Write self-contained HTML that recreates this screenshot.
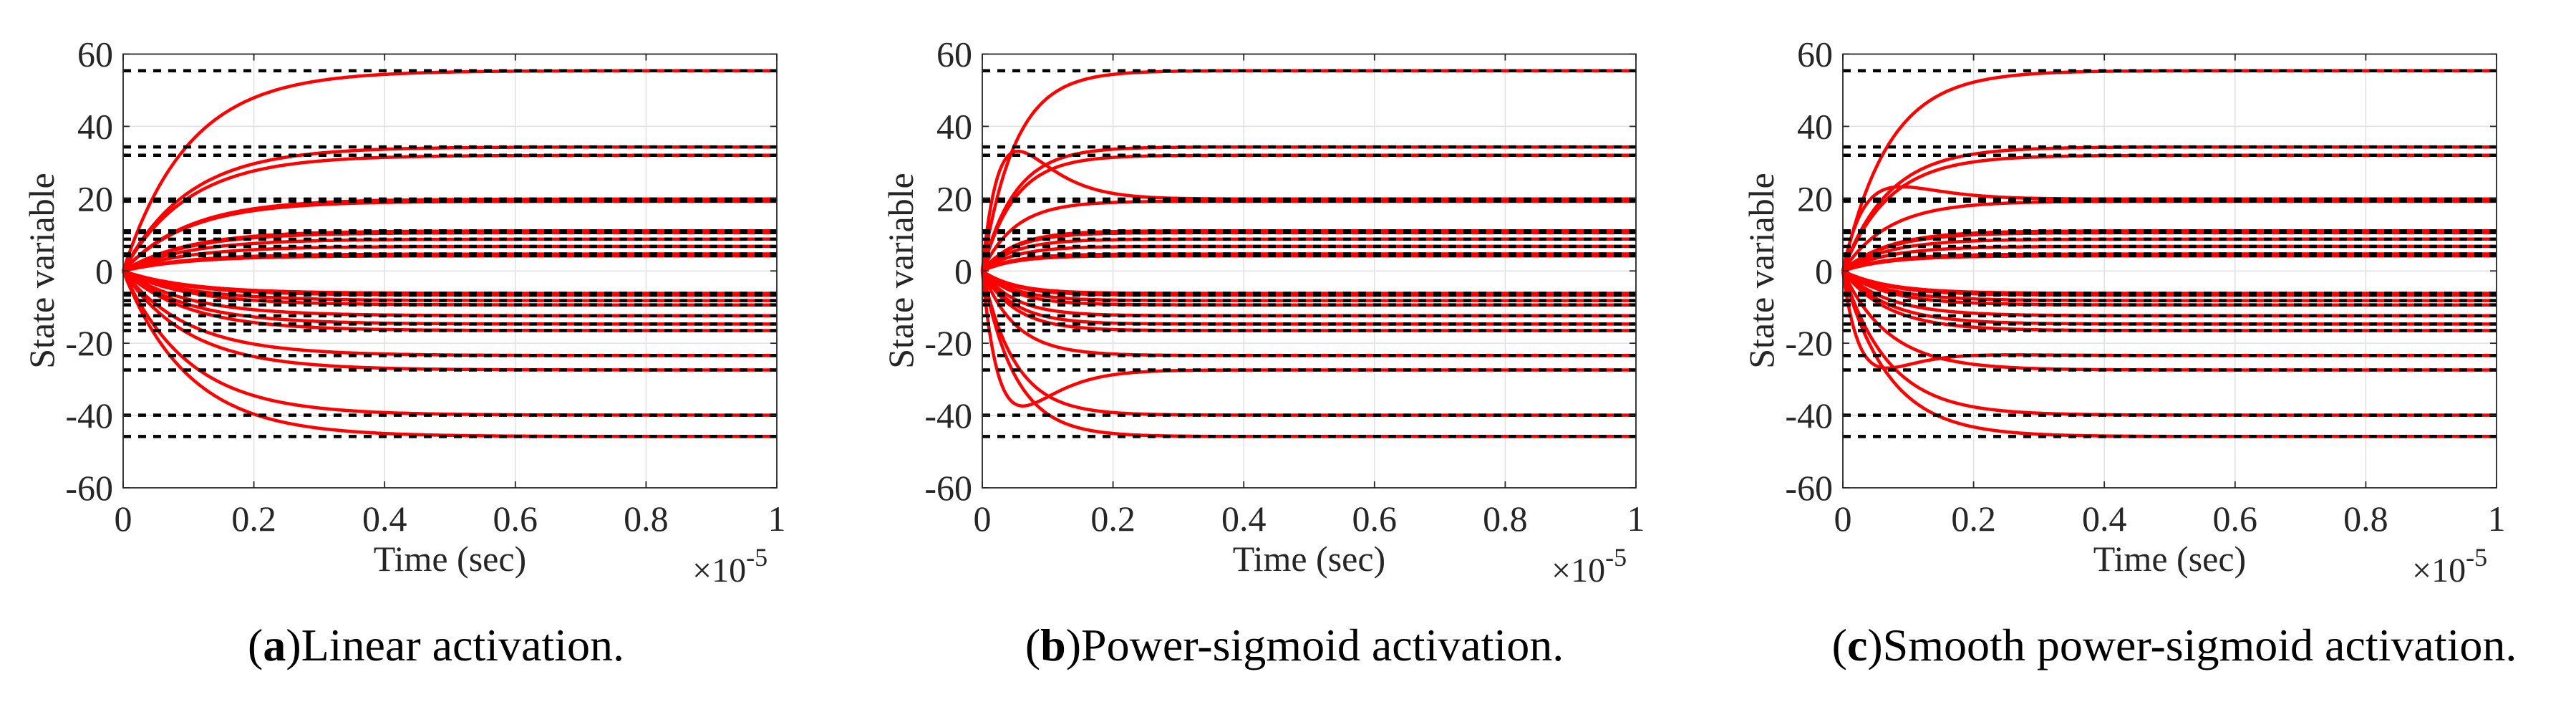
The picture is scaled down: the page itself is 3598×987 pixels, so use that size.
<!DOCTYPE html>
<html><head><meta charset="utf-8">
<style>
html,body{margin:0;padding:0;background:#fff;}
body{width:3598px;height:987px;overflow:hidden;position:relative;font-family:"Liberation Serif",serif;}
svg{position:absolute;left:0;top:0;}
</style></head>
<body>
<svg id="fig" width="3598" height="987" viewBox="0 0 3598 987"></svg>
<script>
// ---- data ----
const targets = [55.4, 34.3, 32.0, 19.3, 19.9, 10.6, 11.1, 8.8, 6.8, 4.2, 4.7, -6.2, -6.7, -8.2, -9.4, -12.4, -14.7, -16.5, -23.4, -27.4, -39.9, -45.8];
const xTicks = [0, 0.2, 0.4, 0.6, 0.8, 1];
const xTickLabels = ["0", "0.2", "0.4", "0.6", "0.8", "1"];
const yTicks = [60, 40, 20, 0, -20, -40, -60];
const yTickLabels = ["60", "40", "20", "0", "-20", "-40", "-60"];
const panelLetters = ["a", "b", "c"];
const panelCaptions = ["Linear activation.", "Power-sigmoid activation.", "Smooth power-sigmoid activation."];
const panelTau = [0.1, 0.05, 0.07];
// overshoot transients: [target index, amplitude, peak time]
const overshootA = [];
const overshootB = [[4, 21, 0.04], [19, -20, 0.04]];
const overshootC = [[4, 11, 0.05], [18, -14.6, 0.04]];
const overshoots = [overshootA, overshootB, overshootC];

const NS = "http://www.w3.org/2000/svg";
const svg = document.getElementById('fig');
function mk(tag, attrs, parent) {
  const e = document.createElementNS(NS, tag);
  for (const k in attrs) e.setAttribute(k, attrs[k]);
  (parent || svg).appendChild(e);
  return e;
}
const panelLeft = [172, 1372, 2574];
const captionCenter = [437, 436, 463];
const W = 913, TOP = 75.5, BOT = 681;

panelLetters.forEach((letter, p) => {
  const L = panelLeft[p];
  const xs = v => L + v * W;
  const ys = v => TOP + (60 - v) / 120 * (BOT - TOP);
  const g = mk('g', {});
  
  

  xTicks.forEach(t => {
    const l = mk('line', {x1: xs(t), x2: xs(t), y1: TOP, y2: BOT, stroke: '#e0e0e0', 'stroke-width': 1.5}, g);
    
    
  });
  yTicks.forEach(t => {
    const l = mk('line', {x1: L, x2: L + W, y1: ys(t), y2: ys(t), stroke: '#e0e0e0', 'stroke-width': 1.5}, g);
    
    
  });

  const tau = panelTau[p];
  const ov = overshoots[p];
  targets.forEach((v, i) => {
    let d = '';
    for (let k = 0; k <= 300; k++) {
      const t = k / 300;
      let x = v * (1 - Math.exp(-t / tau));
      ov.forEach(o => { if (o[0] === i) x += o[1] * (t / o[2]) * Math.exp(1 - t / o[2]); });
      d += (k ? 'L' : 'M') + xs(t).toFixed(1) + ' ' + ys(x).toFixed(1);
    }
    const path = mk('path', {d: d, fill: 'none', stroke: '#ff0000', 'stroke-width': 4.5}, g);
    
    
  });

  targets.forEach(v => {
    const l = mk('line', {x1: L, x2: L + W, y1: ys(v), y2: ys(v), stroke: '#000', 'stroke-width': 4.5, 'stroke-dasharray': '11 10'}, g);
    
    
  });

  const box = mk('rect', {x: L, y: TOP, width: W, height: BOT - TOP, fill: 'none', stroke: '#262626', 'stroke-width': 1.8}, g);
  
  

  xTicks.forEach((t, i) => {
    mk('line', {x1: xs(t), x2: xs(t), y1: BOT, y2: BOT - 9, stroke: '#262626', 'stroke-width': 1.8}, g);
    mk('line', {x1: xs(t), x2: xs(t), y1: TOP, y2: TOP + 9, stroke: '#262626', 'stroke-width': 1.8}, g);
    const tx = mk('text', {x: xs(t), y: 741, 'text-anchor': 'middle', 'font-size': 50, fill: '#262626'}, g);
    tx.textContent = xTickLabels[i];
    
    
  });
  yTicks.forEach((t, i) => {
    mk('line', {x1: L, x2: L + 9, y1: ys(t), y2: ys(t), stroke: '#262626', 'stroke-width': 1.8}, g);
    mk('line', {x1: L + W, x2: L + W - 9, y1: ys(t), y2: ys(t), stroke: '#262626', 'stroke-width': 1.8}, g);
    const ty = mk('text', {x: L - 14, y: ys(t) + 17, 'text-anchor': 'end', 'font-size': 50, fill: '#262626'}, g);
    ty.textContent = yTickLabels[i];
    
    
  });

  const xt = mk('text', {x: L + W / 2, y: 797, 'text-anchor': 'middle', 'font-size': 50, fill: '#262626'}, g);
  xt.textContent = 'Time (sec)';
  
  

  const ex = mk('text', {x: L + W - 118, y: 812, 'font-size': 48, fill: '#262626'}, g);
  ex.innerHTML = '×10<tspan dy="-22" font-size="36">-5</tspan>';
  
  

  const yt = mk('text', {x: 0, y: 0, 'text-anchor': 'middle', 'font-size': 50, fill: '#262626', transform: 'translate(' + (L - 97) + ',378) rotate(-90)'}, g);
  yt.textContent = 'State variable';
  
  

  const cap = mk('text', {x: L + captionCenter[p], y: 922, 'text-anchor': 'middle', 'font-size': 64, fill: '#000'}, g);
  cap.innerHTML = '(<tspan font-weight="bold">' + letter + '</tspan>)' + panelCaptions[p];
  
  
});
</script>
</body></html>
